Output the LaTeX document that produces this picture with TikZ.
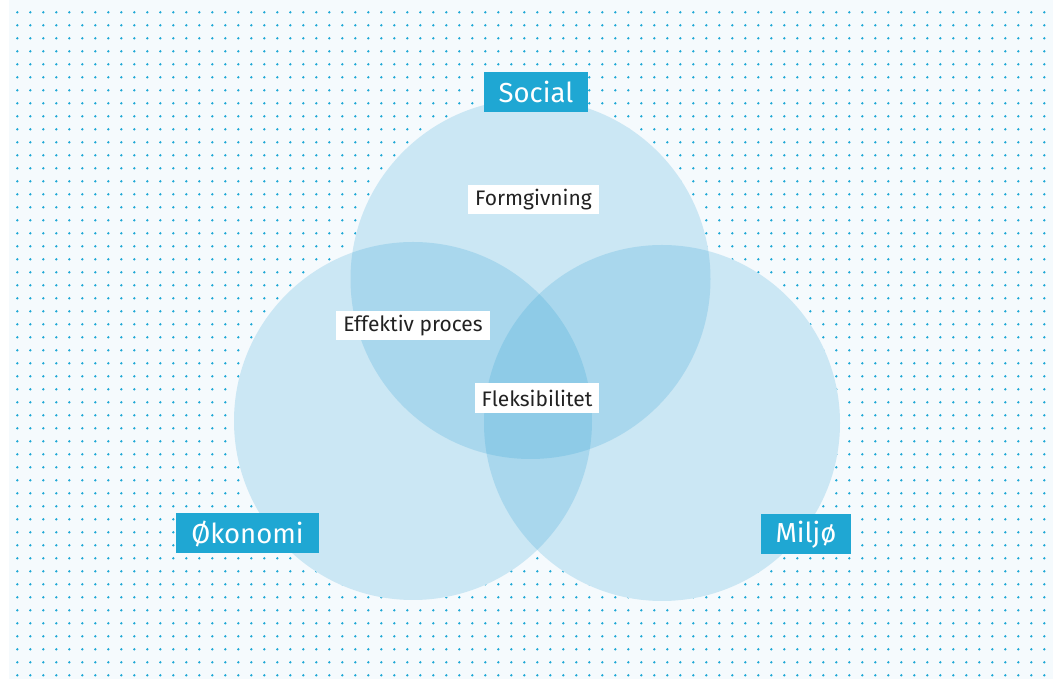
\documentclass[tikz,border=0pt]{standalone}
\usepackage{fontspec}
\setmainfont{Fira Sans}
\definecolor{dotblue}{RGB}{30,168,214}
\definecolor{boxblue}{RGB}{31,167,211}
\definecolor{circblue}{RGB}{35,155,210}
\definecolor{panel}{RGB}{245,250,253}
\definecolor{ink}{RGB}{34,34,34}
\tikzset{
  head/.style={fill=boxblue, text=white, font=\fontsize{27.5}{31}\selectfont, minimum height=40pt, inner xsep=15pt},
  tag/.style={fill=white, text=ink, font=\fontsize{21}{24}\selectfont, minimum height=29.5pt, inner xsep=7pt},
  ring/.style={fill=circblue, fill opacity=0.2}
}
\begin{document}
\begin{tikzpicture}[x=1pt, y=1pt]
    \useasboundingbox (0,0) rectangle (1053,679);
    \fill[panel] (9,0) rectangle (1053,679);

    % dot grid
    \foreach \i in {0,...,79}
        \foreach \j in {0,...,51}
            \fill[dotblue] (17.3+13*\i, 666.7-13*\j) circle (1.3pt);

    % circles
    \fill[panel] (530.5,400) circle (180pt);
    \fill[panel] (413,258) circle (179pt);
    \fill[panel] (662,256) circle (178pt);
    \fill[ring] (530.5,400) circle (180pt);
    \fill[ring] (413,258) circle (179pt);
    \fill[ring] (662,256) circle (178pt);

    \node[head] (social) at (536,587) {Social};
    \node[head] (okonomi) at (247.5,145.5) {Økonomi};
    \node[head] (miljo) at (806,144.5) {Miljø};

    \node[tag] (form) at (533.5,479.5) {Formgivning};
    \node[tag] (proces) at (413,353.5) {Effektiv proces};
    \node[tag] (fleks) at (537,281) {Fleksibilitet};
\end{tikzpicture}
\end{document}
